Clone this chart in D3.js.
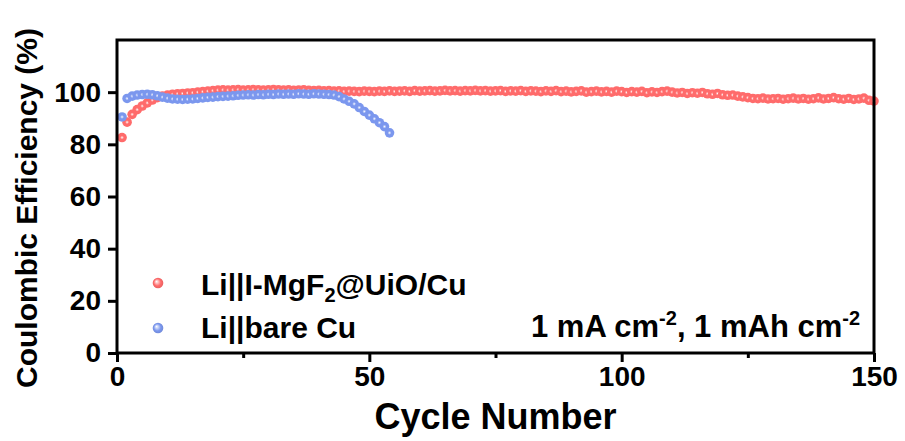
<!DOCTYPE html>
<html>
<head>
<meta charset="utf-8">
<script src="https://cdn.jsdelivr.net/npm/d3@7"></script>
<style>
  html, body { margin: 0; padding: 0; background: #fff; }
  svg { display: block; font-family: "Liberation Sans", Arial, sans-serif; font-weight: bold; }
</style>
</head>
<body>
<svg id="chart" width="905" height="441"></svg>
<script>
// Coulombic efficiency (%) per cycle
const cyclesModified = d3.range(1, 151);
const ceModified = [
  82.6, 88.5, 91.5, 93.3, 94.7, 95.9, 97.0, 97.9, 98.5, 98.9,
  99.2, 99.4, 99.5, 99.7, 99.8, 100.0, 100.2, 100.4, 100.6, 100.8,
  100.9, 100.8, 100.9, 101.0, 100.8, 100.9, 101.0, 100.9, 100.8, 100.9,
  101.0, 100.9, 100.8, 100.9, 100.7, 100.8, 100.9, 100.7, 100.6, 100.7,
  100.5, 100.6, 100.4, 100.5, 100.3, 100.4, 100.3, 100.2, 100.4, 100.3,
  100.2, 100.4, 100.3, 100.5, 100.3, 100.4, 100.5, 100.3, 100.6, 100.4,
  100.5, 100.6, 100.4, 100.5, 100.7, 100.5, 100.6, 100.4, 100.6, 100.5,
  100.7, 100.5, 100.6, 100.4, 100.5, 100.6, 100.3, 100.5, 100.4, 100.6,
  100.3, 100.5, 100.4, 100.2, 100.5, 100.3, 100.6, 100.2, 100.4, 100.1,
  100.3, 100.5, 100.0, 100.2, 100.4, 100.1, 100.3, 100.0, 100.4, 100.2,
  99.9, 100.2, 100.0, 100.3, 99.8, 100.1, 99.9, 100.2, 100.4, 100.0,
  99.7, 99.9, 99.5, 99.8, 99.6, 99.9, 99.4, 99.2, 99.5, 99.0,
  98.8, 98.9, 98.5, 98.2, 97.9, 97.6, 97.5, 97.7, 97.4, 97.5,
  97.6, 97.3, 97.5, 97.7, 97.4, 97.6, 97.3, 97.5, 97.8, 97.4,
  97.6, 97.9, 97.5, 97.3, 97.6, 97.2, 97.4, 97.7, 96.9, 96.6
];
const cyclesBare = d3.range(1, 55);
const ceBare = [
  90.5, 97.6, 98.5, 98.9, 99.1, 99.2, 99.0, 98.6, 98.1, 97.7,
  97.4, 97.3, 97.2, 97.3, 97.4, 97.6, 97.8, 98.0, 98.1, 98.3,
  98.4, 98.5, 98.6, 98.8, 98.9, 99.0, 98.9, 99.1, 99.0, 99.2,
  99.1, 99.3, 99.2, 99.3, 99.2, 99.4, 99.3, 99.2, 99.4, 99.3,
  99.2, 99.1, 98.9, 98.3, 97.4, 96.5, 95.5, 94.1, 92.6, 91.2,
  89.8, 88.3, 86.8, 84.4
];
const xTicks = [0, 50, 100, 150];
const xMinorTicks = [25, 75, 125];
const yTicks = [0, 20, 40, 60, 80, 100];

const seriesNames = ["Li||I-MgF", "Li||bare Cu"];
const seriesColors = ["#ff6b6b", "#7b97ee"];

const svg = d3.select("#chart");
const plotLeft = 117, plotRight = 874, plotTop = 40, plotBottom = 353;

const x = d3.scaleLinear().domain([0, 150]).range([plotLeft, plotRight]);
const y = d3.scaleLinear().domain([0, 120]).range([plotBottom, plotTop]);

// Sphere-like marker fills
const defs = svg.append("defs");
seriesColors.forEach((c, i) => {
  const g = defs.append("radialGradient").attr("id", "dot" + i)
    .attr("cx", "50%").attr("cy", "50%").attr("r", "50%");
  g.append("stop").attr("offset", "0%").attr("stop-color", "#ffffff").attr("stop-opacity", 0.95);
  g.append("stop").attr("offset", "18%").attr("stop-color", d3.interpolateRgb("#ffffff", c)(0.5));
  g.append("stop").attr("offset", "40%").attr("stop-color", c);
  g.append("stop").attr("offset", "100%").attr("stop-color", c);
  const lg = defs.append("radialGradient").attr("id", "leg" + i)
    .attr("cx", "50%").attr("cy", "50%").attr("r", "55%").attr("fx", "35%").attr("fy", "35%");
  lg.append("stop").attr("offset", "0%").attr("stop-color", "#ffffff");
  lg.append("stop").attr("offset", "60%").attr("stop-color", c);
  lg.append("stop").attr("offset", "100%").attr("stop-color", d3.color(c).darker(0.3));
});

// Axes ticks
const xAxis = svg.append("g").attr("transform", `translate(0,${plotBottom})`)
  .call(d3.axisBottom(x).tickValues(xTicks).tickSize(9).tickPadding(4).tickFormat(d3.format("d")));
const xMinor = svg.append("g").attr("transform", `translate(0,${plotBottom})`)
  .call(d3.axisBottom(x).tickValues(xMinorTicks).tickSize(5).tickFormat(""));
const yAxis = svg.append("g").attr("transform", `translate(${plotLeft},0)`)
  .call(d3.axisLeft(y).tickValues(yTicks).tickSize(9).tickPadding(7).tickFormat(d3.format("d")));

[xAxis, xMinor, yAxis].forEach(a => {
  a.select(".domain").remove();
  a.selectAll(".tick line").attr("stroke", "#000").attr("stroke-width", 3);
  a.selectAll("text").attr("fill", "#000")
    .style("font-family", "'Liberation Sans', Arial, sans-serif")
    .style("font-weight", "bold").style("font-size", "28px");
});

// Data markers
const markR = 4.8;
svg.append("g").selectAll("circle")
  .data(cyclesModified.map((c, i) => [c, ceModified[i]]))
  .join("circle")
  .attr("cx", d => x(d[0])).attr("cy", d => y(d[1])).attr("r", markR)
  .attr("fill", "url(#dot0)");
svg.append("g").selectAll("circle")
  .data(cyclesBare.map((c, i) => [c, ceBare[i]]))
  .join("circle")
  .attr("cx", d => x(d[0])).attr("cy", d => y(d[1])).attr("r", markR)
  .attr("fill", "url(#dot1)");

// Plot frame
svg.append("rect")
  .attr("x", plotLeft).attr("y", plotTop)
  .attr("width", plotRight - plotLeft).attr("height", plotBottom - plotTop)
  .attr("fill", "none").attr("stroke", "#000").attr("stroke-width", 3);

// Legend
const legendY = [283, 328];
const legend = svg.append("g");
legendY.forEach((ly, i) => {
  legend.append("circle").attr("cx", 158).attr("cy", ly).attr("r", 5.3)
    .attr("fill", `url(#leg${i})`);
});
const t1 = legend.append("text").attr("x", 201).attr("y", 295)
  .style("font-size", "30px").attr("fill", "#000");
t1.append("tspan").text(seriesNames[0]);
t1.append("tspan").text("2").style("font-size", "20px").attr("dy", 7);
t1.append("tspan").text("@UiO/Cu").attr("dy", -7);
legend.append("text").attr("x", 201).attr("y", 338)
  .style("font-size", "30px").attr("fill", "#000").text(seriesNames[1]);

// Test condition annotation
const ann = svg.append("text").attr("x", 531).attr("y", 337)
  .style("font-size", "31px").attr("fill", "#000");
ann.append("tspan").text("1 mA cm");
ann.append("tspan").text("-2").style("font-size", "20px").attr("dy", -12);
ann.append("tspan").text(", 1 mAh cm").attr("dy", 12);
ann.append("tspan").text("-2").style("font-size", "20px").attr("dy", -12);

// Axis titles
svg.append("text").attr("x", (plotLeft + plotRight) / 2).attr("y", 429)
  .attr("text-anchor", "middle").style("font-size", "36px").attr("fill", "#000")
  .text("Cycle Number");
svg.append("text").attr("transform", "translate(37,208) rotate(-90)")
  .attr("text-anchor", "middle").style("font-size", "30px").attr("fill", "#000")
  .text("Coulombic Efficiency (%)");
</script>
</body>
</html>
